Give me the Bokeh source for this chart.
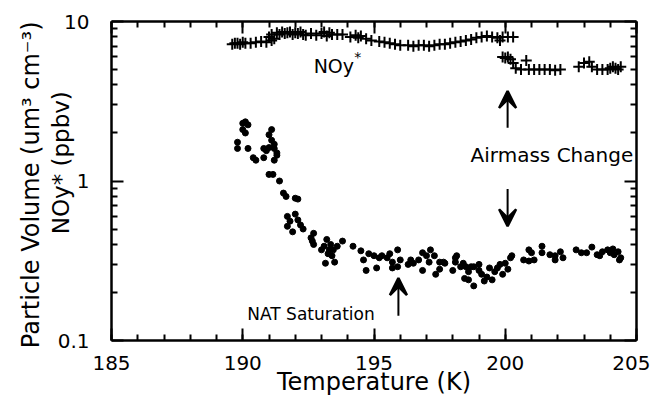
import math
from bokeh.plotting import figure
from bokeh.models import (Label, Arrow, VeeHead, LinearAxis, LogAxis, Range1d, Title,
                          FixedTicker, CustomJSTickFormatter)
from bokeh.embed import file_html
from bokeh.resources import INLINE

# ---- data ----
pv_temp = [190.0, 190.1, 190.2, 190.0, 190.1, 189.8, 189.8, 190.2, 190.4, 190.5,
           191.1, 191.0, 191.1, 191.2, 191.2, 190.9, 190.8, 191.3, 191.2, 190.8, 191.0, 191.3,
           191.0, 191.15, 191.4, 191.55, 191.65, 192.0, 192.1,
           191.7, 192.0, 191.8, 192.2, 191.9, 192.3, 191.7, 192.1,
           192.7, 192.65, 192.7, 192.6,
           193.2, 193.1, 193.3, 193.4, 193.15, 193.5, 193.45, 193.8, 193.6, 193.0, 193.25, 193.35,
           194.2, 194.5, 194.6, 194.7, 195.0, 195.1, 195.3, 195.5, 195.6, 195.7, 195.7, 195.9, 196.0, 195.9, 194.8, 195.2,
           196.3, 196.5, 196.7, 196.85, 197.0, 197.15, 197.3, 197.5, 196.85, 197.35, 197.5, 197.7, 196.4, 197.1,
           198.0, 198.15, 198.1, 198.4, 198.5, 198.45, 198.8, 198.7, 197.65, 198.1, 198.3,
           198.6, 198.6, 198.8, 199.0, 199.1, 199.2, 199.4, 199.5, 199.6, 199.7, 199.8, 200.0, 200.1, 200.2, 200.25, 199.9, 199.3, 199.0,
           200.7, 200.9, 200.9, 201.0, 201.1, 201.4, 201.4, 201.7, 201.9, 201.9, 202.1, 202.2,
           202.7, 202.9, 203.1, 203.3, 203.5, 203.7, 203.9, 204.1, 204.15, 204.3, 204.4, 204.35, 204.0, 203.6]
pv_value = [2.3, 2.35, 2.25, 2.1, 2.0, 1.75, 1.6, 1.6, 1.4, 1.35,
            2.1, 1.95, 1.8, 1.7, 1.6, 1.55, 1.6, 1.45, 1.35, 1.4, 1.62, 1.5,
            1.1, 1.1, 1.0, 0.84, 0.8, 0.78, 0.77,
            0.6, 0.62, 0.56, 0.53, 0.48, 0.5, 0.52, 0.57,
            0.47, 0.42, 0.4, 0.44,
            0.43, 0.39, 0.37, 0.34, 0.305, 0.31, 0.37, 0.42, 0.39, 0.37, 0.35, 0.40,
            0.39, 0.365, 0.32, 0.275, 0.34, 0.285, 0.34, 0.33, 0.35, 0.31, 0.285, 0.37, 0.32, 0.29, 0.35, 0.33,
            0.30, 0.305, 0.32, 0.355, 0.34, 0.37, 0.34, 0.31, 0.275, 0.26, 0.28, 0.305, 0.32, 0.31,
            0.275, 0.34, 0.31, 0.305, 0.29, 0.245, 0.22, 0.29, 0.31, 0.33, 0.29,
            0.27, 0.24, 0.29, 0.275, 0.26, 0.236, 0.285, 0.24, 0.27, 0.285, 0.30, 0.305, 0.28, 0.33, 0.34, 0.26, 0.25, 0.30,
            0.32, 0.315, 0.37, 0.355, 0.32, 0.39, 0.355, 0.345, 0.34, 0.32, 0.36, 0.33,
            0.37, 0.355, 0.355, 0.385, 0.345, 0.36, 0.37, 0.375, 0.345, 0.36, 0.33, 0.32, 0.355, 0.34]

noy_temp = [189.6, 189.7, 189.8, 189.9, 190.0, 190.1, 190.3, 190.5, 190.7, 190.9, 191.1,
            191.0, 191.1, 191.2,
            191.3, 191.4, 191.5, 191.6, 191.7, 191.8, 191.9, 192.0, 192.1, 192.2, 192.3, 192.4,
            192.6, 192.8, 193.0, 193.1, 193.2, 193.3, 193.4, 193.6, 193.8,
            194.1, 194.3, 194.4, 194.5, 194.7, 194.9,
            195.2, 195.4, 195.6, 195.8, 196.0, 196.3, 196.5, 196.7, 196.9, 197.1, 197.3, 197.5,
            197.7, 197.9, 198.1, 198.3, 198.5, 198.7, 198.9, 199.1, 199.3, 199.5, 199.7, 199.8,
            199.9, 200.1, 200.3,
            199.9, 200.0, 200.1, 200.2, 200.3, 200.4, 200.6, 200.8, 200.9, 201.1, 201.3, 201.5,
            201.7, 201.9, 202.1,
            202.8, 203.0, 203.2, 203.3, 203.5, 203.7, 203.9, 204.0, 204.1, 204.2, 204.3, 204.4]
noy_value = [7.2, 7.3, 7.3, 7.2, 7.4, 7.3, 7.3, 7.4, 7.5, 7.4, 7.6,
             8.0, 8.3, 7.8,
             8.5, 8.3, 8.6, 8.4, 8.5, 8.6, 8.3, 8.5, 8.4, 8.6, 8.3, 8.2,
             8.4, 8.2, 8.4, 8.6, 8.1, 8.5, 8.3, 8.3, 8.3,
             8.0, 8.2, 7.9, 8.1, 7.8, 7.6,
             7.5, 7.4, 7.3, 7.2, 7.1, 7.1, 7.0, 7.1, 7.1, 7.0, 7.1, 7.2,
             7.2, 7.3, 7.4, 7.5, 7.6, 7.7, 7.9, 8.0, 8.1, 8.0, 7.9, 7.6,
             8.0, 8.0, 8.0,
             6.0, 5.9, 6.0, 5.8, 5.5, 5.1, 5.0, 5.7, 5.0, 5.0, 5.0, 5.0,
             5.0, 4.95, 5.0,
             5.2, 5.5, 5.6, 5.2, 5.0, 5.0, 5.0, 5.1, 5.2, 5.1, 5.0, 5.2]

x_ticks = [185, 190, 195, 200, 205]
x_minor = list(range(185, 206))
y_ticks = [0.1, 1, 10]
y_minor = [k * 0.1 for k in range(2, 10)] + [k * 1.0 for k in range(2, 10)]

FONT = "DejaVu Sans"
NBSP = "\u00a0"

p = figure(width=650, height=398, output_backend="svg", toolbar_location=None,
           x_range=Range1d(185, 205), y_range=Range1d(0.1, 10), y_axis_type="log",
           min_border_left=111, min_border_right=14, min_border_top=21, min_border_bottom=55)
p.background_fill_color = "white"
p.border_fill_color = "white"
p.outline_line_color = None
p.xgrid.visible = False
p.ygrid.visible = False


def style_axis(ax):
    ax.axis_line_width = 2.5
    ax.axis_line_color = "black"
    ax.major_tick_in = 12
    ax.major_tick_out = 0
    ax.minor_tick_in = 6
    ax.minor_tick_out = 0
    ax.major_tick_line_width = 2
    ax.minor_tick_line_width = 2
    ax.major_tick_line_color = "black"
    ax.minor_tick_line_color = "black"
    ax.major_label_text_font = FONT
    ax.major_label_text_font_size = "20px"
    ax.major_label_text_color = "black"
    ax.axis_label_text_font = FONT
    ax.axis_label_text_font_size = "23px"
    ax.axis_label_text_font_style = "normal"
    ax.axis_label_text_color = "black"


# bottom axis
xb = p.xaxis[0]
xb.ticker = FixedTicker(ticks=x_ticks, minor_ticks=x_minor)
style_axis(xb)
xb.major_label_standoff = 15
xb.axis_label = "Temperature (K)"
xb.axis_label_text_font_size = "24px"
xb.axis_label_standoff = -5

# left axis (tick labels + inner title line)
yl = p.yaxis[0]
yl.ticker = FixedTicker(ticks=y_ticks, minor_ticks=y_minor)
style_axis(yl)
yl.major_label_standoff = 22
yl.formatter = CustomJSTickFormatter(code="return tick >= 1 ? tick.toFixed(0) : tick.toFixed(1);")
yl.axis_label = NBSP * 5 + "NOy* (ppbv)"
yl.axis_label_standoff = -19

# outer title line on the left
p.add_layout(Title(text="Particle Volume  (um³ cm⁻³)", align="center", text_font=FONT,
                   text_font_size="24px", text_font_style="normal", text_color="black",
                   standoff=0, offset=0), "left")

# mirrored ticks on top and right (no labels)
blank = CustomJSTickFormatter(code="return '';")
xt = LinearAxis(ticker=FixedTicker(ticks=x_ticks, minor_ticks=x_minor), formatter=blank)
style_axis(xt)
xt.major_label_standoff = 0
p.add_layout(xt, "above")

yr = LogAxis(ticker=FixedTicker(ticks=y_ticks, minor_ticks=y_minor), formatter=blank)
style_axis(yr)
yr.major_label_standoff = 0
p.add_layout(yr, "right")

# data
p.scatter(pv_temp, pv_value, marker="circle", size=6, color="black")
p.scatter(noy_temp, noy_value, marker="cross", size=11, line_color="black", line_width=2)


def lab(x, y, text, size, align="center"):
    p.add_layout(Label(x=x, y=y, text=text, text_font=FONT, text_font_size=size,
                       text_color="black", text_align=align, text_baseline="middle"))


lab(192.7, 5.25, "NOy", "19px", align="left")
lab(194.25, 6.0, "*", "14px", align="left")
lab(198.68, 1.45, "Airmass Change", "20px", align="left")
lab(192.6, 0.147, "NAT Saturation", "17px")


def arrow(x, y0, y1):
    p.add_layout(Arrow(end=VeeHead(size=17, fill_color="black", fill_alpha=1.0,
                                   line_color="black", line_width=2.5),
                       x_start=x, y_start=y0, x_end=x, y_end=y1,
                       line_width=2, line_color="black"))


arrow(195.93, 0.143, 0.246)
arrow(200.09, 2.16, 3.67)
arrow(200.09, 0.89, 0.52)

open("out.html", "w").write(file_html(p, INLINE))
